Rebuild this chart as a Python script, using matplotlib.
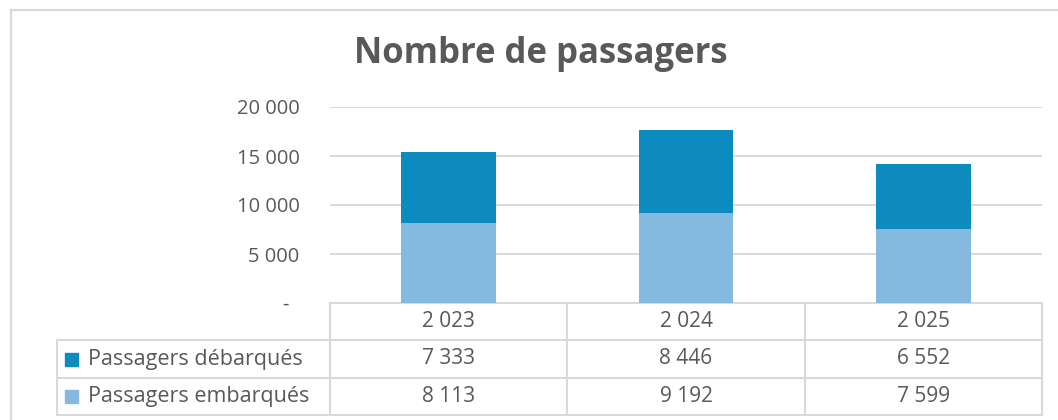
import matplotlib
matplotlib.use("Agg")
import matplotlib.pyplot as plt
from matplotlib.patches import Rectangle

years = ["2 023", "2 024", "2 025"]
debarques = [7333, 8446, 6552]
embarques = [8113, 9192, 7599]
series_names = ["Passagers débarqués", "Passagers embarqués"]
yticks = [0, 5000, 10000, 15000, 20000]
ytick_labels = ["-  ", "5 000", "10 000", "15 000", "20 000"]

C_DARK = "#0E8BBE"
C_LIGHT = "#85B9E0"
TXT = "#595959"
GRID = "#D9D9D9"

plt.rcParams['font.family'] = ['Open Sans', 'DejaVu Sans']

W, H = 1058, 420
fig = plt.figure(figsize=(W / 100, H / 100), dpi=100)

# overlay axes in pixel coordinates
ov = fig.add_axes([0, 0, 1, 1])
ov.set_xlim(0, W)
ov.set_ylim(H, 0)
ov.axis("off")

# plot area in pixels
L, R, T, B = 330, 1042, 107, 303
ax = fig.add_axes([L / W, (H - B) / H, (R - L) / W, (B - T) / H])
ax.patch.set_alpha(0)
n = len(years)
x = list(range(n))
ax.bar(x, embarques, width=0.4, color=C_LIGHT, zorder=3)
ax.bar(x, debarques, width=0.4, bottom=embarques, color=C_DARK, zorder=3)
ax.set_xlim(-0.5, n - 0.5)
ax.set_ylim(0, 20000)
ax.set_yticks(yticks)
ax.set_yticklabels(ytick_labels)
ax.tick_params(axis="y", length=0, pad=22, labelsize=14.5, labelcolor=TXT)
ax.set_xticks([])
for s in ax.spines.values():
    s.set_visible(False)
ax.grid(axis="y", color=GRID, lw=1.4, zorder=0)

# outer border
ov.plot([11, 11], [H, 10], color=GRID, lw=1.6)
ov.plot([11, W], [10, 10], color=GRID, lw=1.6)

# title
ov.text(541, 54, "Nombre de passagers", ha="center", va="center",
        fontsize=25, fontweight="bold", color=TXT)

# data table
colw = (R - L) / n
row_y = [303, 340, 378, 415]
tl = 57
lc = GRID
lw = 1.5
ov.plot([L, R], [row_y[0], row_y[0]], color=lc, lw=lw)
for yy in row_y[1:]:
    ov.plot([tl, R], [yy, yy], color=lc, lw=lw)
ov.plot([tl, tl], [row_y[1], row_y[3]], color=lc, lw=lw)
for i in range(n + 1):
    xx = L + i * colw
    ov.plot([xx, xx], [row_y[0], row_y[3]], color=lc, lw=lw)

for i, yr in enumerate(years):
    ov.text(L + (i + 0.5) * colw, (row_y[0] + row_y[1]) / 2, yr,
            ha="center", va="center", fontsize=15, color=TXT)

rows = [(series_names[0], debarques, C_DARK), (series_names[1], embarques, C_LIGHT)]
for r, (name, vals, col) in enumerate(rows):
    yc = (row_y[r + 1] + row_y[r + 2]) / 2
    ov.add_patch(Rectangle((65, yc - 6.5), 13, 13, color=col))
    ov.text(88, yc, name, ha="left", va="center", fontsize=15.5, color=TXT)
    for i, v in enumerate(vals):
        ov.text(L + (i + 0.5) * colw, yc, f"{v:,}".replace(",", " "),
                ha="center", va="center", fontsize=15, color=TXT)

fig.savefig("out.png", dpi=100)
